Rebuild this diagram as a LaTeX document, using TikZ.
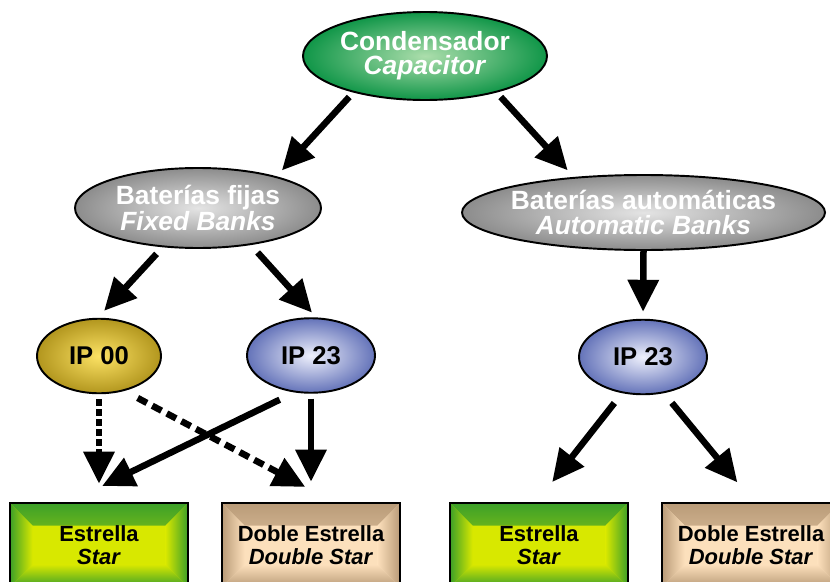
\documentclass[tikz,border=0pt]{standalone}
\usepackage{fontspec}
\setmainfont{Liberation Sans}
\usetikzlibrary{shapes.geometric}
\usetikzlibrary{arrows.meta}
\usetikzlibrary{positioning}

\definecolor{condout}{RGB}{16,150,72}
\definecolor{condin}{RGB}{172,222,172}
\definecolor{greyout}{RGB}{140,140,140}
\definecolor{greyin}{RGB}{228,228,228}
\definecolor{goldout}{RGB}{178,150,30}
\definecolor{goldin}{RGB}{252,226,100}
\definecolor{blueout}{RGB}{100,115,185}
\definecolor{bluein}{RGB}{238,240,252}
\definecolor{starout}{RGB}{60,160,40}
\definecolor{starin}{RGB}{216,232,0}
\definecolor{dblout}{RGB}{185,155,120}
\definecolor{dblin}{RGB}{252,224,188}

\tikzset{
  bubble/.style 2 args={ellipse,draw=black,line width=1.1pt,inner sep=-6pt,
    outer color=#1,inner color=#2,align=center},
  bigtxt/.style={font=\fontsize{15}{13.8}\selectfont\bfseries,text=white},
  iptxt/.style={font=\fontsize{14.6}{16}\selectfont\bfseries,text=black,
    minimum height=1.49cm},
  bevelbox/.style 2 args={rectangle,draw=black,line width=1.5pt,
    minimum width=3.56cm,minimum height=1.68cm,fill=#2,align=center,
    font=\fontsize{12.5}{13.2}\selectfont\bfseries,
    path picture={
      \path[top color=#1,bottom color=#2] (path picture bounding box.north west) -- (path picture bounding box.north east)
        -- ([shift={(-0.45,-0.45)}]path picture bounding box.north east) -- ([shift={(0.45,-0.45)}]path picture bounding box.north west) -- cycle;
      \path[top color=#2,bottom color=#1] (path picture bounding box.south west) -- (path picture bounding box.south east)
        -- ([shift={(-0.45,0.45)}]path picture bounding box.south east) -- ([shift={(0.45,0.45)}]path picture bounding box.south west) -- cycle;
      \path[left color=#1,right color=#2] (path picture bounding box.north west) -- ([shift={(0.45,-0.45)}]path picture bounding box.north west)
        -- ([shift={(0.45,0.45)}]path picture bounding box.south west) -- (path picture bounding box.south west) -- cycle;
      \path[left color=#2,right color=#1] (path picture bounding box.north east) -- ([shift={(-0.45,-0.45)}]path picture bounding box.north east)
        -- ([shift={(-0.45,0.45)}]path picture bounding box.south east) -- (path picture bounding box.south east) -- cycle;
    }},
  arr/.style={line width=0.13cm,-{Triangle[length=0.64cm,width=0.6cm]}},
  vdash/.style={arr,dash pattern=on 0.134cm off 0.066cm},
  ddash/.style={arr,dash pattern=on 0.21cm off 0.12cm}
}

\begin{document}
\begin{tikzpicture}
\clip (0,0) rectangle (16.6,11.62);

% capacitor and the two kinds of banks
\node[bubble={condout}{condin},bigtxt,minimum width=4.88cm,minimum height=1.76cm] (cond) at (8.5,10.5) {Condensador\\\textit{Capacitor}};
\node[bubble={greyout}{greyin},bigtxt,minimum width=4.92cm,minimum height=1.6cm] (fijas) at (3.96,7.46) {Baterías fijas\\\textit{Fixed Banks}};
\node[bubble={greyout}{greyin},bigtxt,minimum width=7.26cm,minimum height=1.5cm] (auto) at (12.87,7.37) {Baterías automáticas\\\textit{Automatic Banks}};

% protection degree
\node[bubble={goldout}{goldin},iptxt,minimum width=2.48cm] (ip00) at (1.98,4.5) {IP 00};
\node[bubble={blueout}{bluein},iptxt,minimum width=2.56cm] (ip23L) at (6.22,4.51) {IP 23};
\node[bubble={blueout}{bluein},iptxt,minimum width=2.56cm] (ip23R) at (12.86,4.48) {IP 23};

% connections
\node[bevelbox={starout}{starin}] (estL) at (1.98,0.72) {Estrella\\\textit{Star}};
\node[bevelbox={dblout}{dblin}] (dobleL) at (6.22,0.72) {Doble Estrella\\\textit{Double Star}};
\node[bevelbox={starout}{starin}] (estR) at (10.78,0.72) {Estrella\\\textit{Star}};
\node[bevelbox={dblout}{dblin}] (dobleR) at (15.02,0.72) {Doble Estrella\\\textit{Double Star}};

\draw[arr,shorten <=0.12cm,shorten >=0.16cm] (cond.207) -- (fijas.22);
\draw[arr,shorten <=0.12cm,shorten >=0.18cm] (cond.333) -- (auto.153);
\draw[arr,shorten <=0.18cm,shorten >=0.19cm] (fijas.228) -- (ip00.92);
\draw[arr,shorten <=0.2cm,shorten >=0.13cm] (fijas.325) -- (ip23L.82);
\draw[arr,shorten >=0.14cm] (auto.south) -- (ip23R.north);

\draw[vdash,shorten <=0.1cm,shorten >=0.36cm] (ip00.south) -- (estL.north);
\draw[ddash,shorten <=0.3cm,shorten >=0.63cm] (ip00.306) -- (dobleL.63);
\draw[arr,shorten <=0.33cm,shorten >=0.72cm] (ip23L.246) -- (estL.124);
\draw[arr,shorten <=0.1cm,shorten >=0.4cm] (ip23L.south) -- (dobleL.north);
\draw[arr,shorten <=0.25cm,shorten >=0.5cm] (ip23R.240) -- (estR.93);
\draw[arr,shorten <=0.25cm,shorten >=0.5cm] (ip23R.300) -- (dobleR.87);

\end{tikzpicture}
\end{document}
